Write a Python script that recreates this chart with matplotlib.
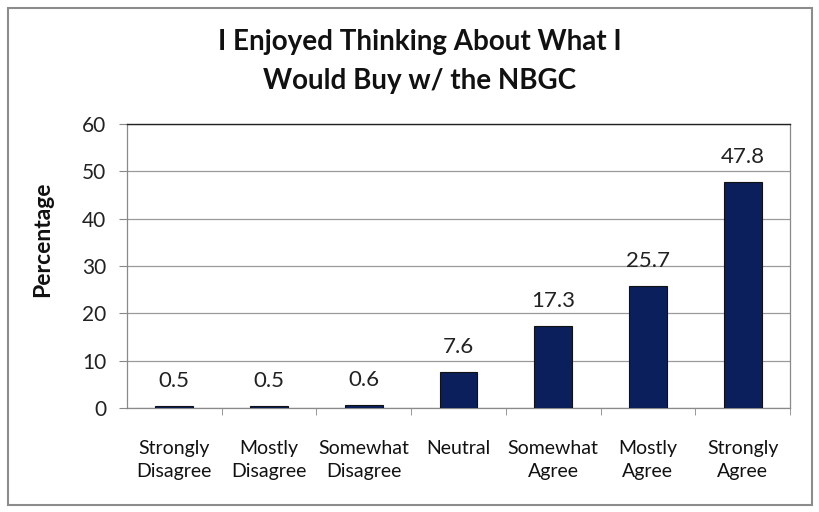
import matplotlib
matplotlib.use("Agg")
import matplotlib.pyplot as plt
from matplotlib.patches import Rectangle
from matplotlib.ticker import FixedLocator

plt.rcParams["font.family"] = ["Lato", "DejaVu Sans"]

categorias = ["Strongly\nDisagree", "Mostly\nDisagree", "Somewhat\nDisagree",
              "Neutral", "Somewhat\nAgree", "Mostly\nAgree", "Strongly\nAgree"]
percentuais = [0.5, 0.5, 0.6, 7.6, 17.3, 25.7, 47.8]
rotulos = ["0.5", "0.5", "0.6", "7.6", "17.3", "25.7", "47.8"]
y_ticks = [0, 10, 20, 30, 40, 50, 60]

fig = plt.figure(figsize=(8.2, 5.12), dpi=100)
ax = fig.add_axes([127 / 820, 1 - 408 / 512, (790 - 127) / 820, (408 - 124) / 512])

x = range(len(categorias))
ax.bar(x, percentuais, width=0.4, color="#0A1F5C", edgecolor="#111111",
       linewidth=0.8, zorder=3)
for xi, v, r in zip(x, percentuais, rotulos):
    ax.text(xi, v + 4.0, r, ha="center", va="baseline", fontsize=16, color="#222222")

ax.set_xlim(-0.5, len(categorias) - 0.5)
ax.set_ylim(0, 60)
ax.set_yticks(y_ticks)
ax.yaxis.grid(True, color="#9a9a9a", linewidth=0.9, zorder=0)
ax.tick_params(axis="y", labelsize=15, length=6, color="#888888", pad=9,
               labelcolor="#222222")

ax.set_xticks(list(x))
ax.set_xticklabels(categorias, fontsize=14, color="#111111", linespacing=1.42)
ax.tick_params(axis="x", which="major", length=0, pad=23)
ax.xaxis.set_minor_locator(FixedLocator([i + 0.5 for i in range(len(categorias))]))
ax.tick_params(axis="x", which="minor", length=5, color="#888888")

for lado in ["left", "bottom", "right"]:
    ax.spines[lado].set_color("#8a8a8a")
    ax.spines[lado].set_linewidth(0.9)
ax.spines["top"].set_color("#222222")
ax.spines["top"].set_linewidth(1.0)

ax.set_ylabel("Percentage", fontsize=16.5, fontweight="bold", color="#111111")
ax.yaxis.set_label_coords(-0.112, 0.595)

fig.text(420 / 820, 1 - 50 / 512, "I Enjoyed Thinking About What I", ha="center",
         va="baseline", fontsize=20, fontweight="bold", color="#111111")
fig.text(420 / 820, 1 - 89 / 512, "Would Buy w/ the NBGC", ha="center",
         va="baseline", fontsize=20, fontweight="bold", color="#111111")

# moldura externa do gráfico
fig.patches.append(Rectangle((8 / 820, 1 - 505 / 512), 804 / 820, 497 / 512,
                             transform=fig.transFigure, fill=False,
                             edgecolor="#8c8c8c", linewidth=1.5))

fig.savefig("out.png", dpi=100, facecolor="white")
